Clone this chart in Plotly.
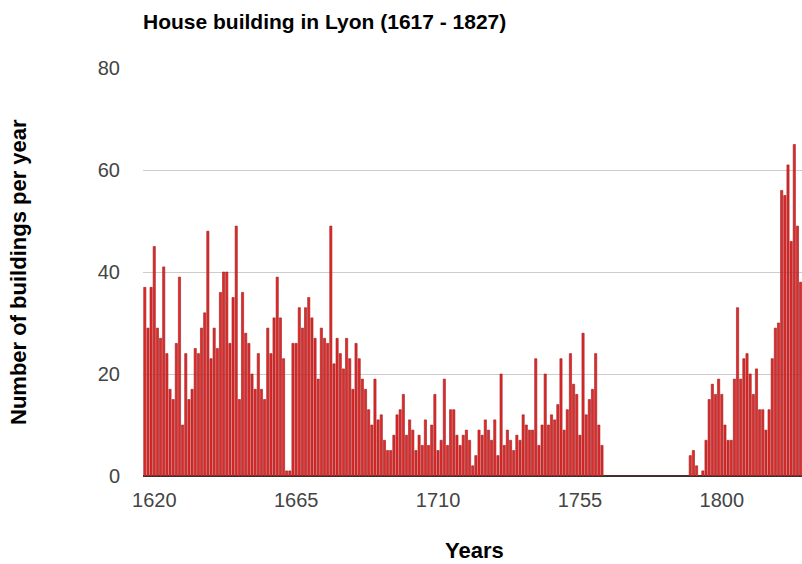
import plotly.graph_objects as go

# Years 1617 .. 1825 (bars beyond 1825 are clipped in the reference)
start_year = 1617
buildings_1617_1664 = [37, 29, 37, 45, 29, 27, 41, 24, 17, 15, 26, 39, 10, 24, 15, 17,
                       25, 24, 29, 32, 48, 23, 29, 25, 36, 40, 40, 26, 35, 49, 15, 36,
                       28, 26, 20, 17, 24, 17, 15, 29, 24, 31, 39, 31, 23, 1, 1, 26]
buildings_1665_1686 = [26, 33, 29, 33, 35, 31, 27, 19, 29, 27, 26, 49, 22, 27, 24, 21,
                       27, 23, 17, 26, 23, 19]
buildings_1687_1712 = [17, 13, 10, 19, 11, 12, 7, 5, 5, 8, 12, 13, 16, 8, 11, 9, 5, 8,
                       6, 11, 6, 10, 16, 5, 7, 19]
buildings_1713_1735 = [6, 13, 13, 8, 6, 8, 9, 7, 2, 4, 9, 8, 11, 9, 7, 11, 4, 20, 6, 9,
                       7, 5, 8]
buildings_1736_1762 = [7, 12, 10, 9, 9, 23, 6, 10, 20, 10, 12, 11, 14, 23, 9, 13, 24,
                       18, 16, 8, 28, 12, 15, 17, 24, 10, 6]
buildings_1763_1789 = [0] * 27
buildings_1790_1825 = [4, 5, 2, 0, 1, 7, 15, 18, 16, 19, 16, 10, 7, 7, 19, 33, 19, 23,
                       24, 20, 16, 21, 13, 13, 9, 13, 23, 29, 30, 56, 55, 61, 46, 65,
                       49, 38]

values = (buildings_1617_1664 + buildings_1665_1686 + buildings_1687_1712 +
          buildings_1713_1735 + buildings_1736_1762 + buildings_1763_1789 +
          buildings_1790_1825)
years = [start_year + i for i in range(len(values))]

x_tick_vals = [1620, 1665, 1710, 1755, 1800]
y_tick_vals = [0, 20, 40, 60, 80]

FONT = "Liberation Sans, Arial, sans-serif"

fig = go.Figure(go.Bar(
    x=years, y=values,
    marker=dict(color="#e02a2a", line=dict(color="#a01c1c", width=0.6)),
    hoverinfo="x+y",
))

fig.update_layout(
    width=802, height=564,
    margin=dict(l=143, r=0, t=68, b=88),
    paper_bgcolor="white", plot_bgcolor="white",
    bargap=0.3,
    showlegend=False,
    title=dict(text="<b>House building in Lyon (1617 - 1827)</b>",
               font=dict(family=FONT, size=21, color="black"),
               xref="container", yref="container",
               x=143 / 802, xanchor="left", y=1 - 22 / 564, yanchor="middle"),
    xaxis=dict(range=[1616.43, 1825.44], tickvals=x_tick_vals,
               ticktext=[str(v) for v in x_tick_vals],
               showgrid=False, zeroline=False, showline=False, ticks="",
               ticklabelstandoff=10, automargin=False,
               tickfont=dict(family=FONT, size=20, color="#444444")),
    yaxis=dict(range=[0, 80], tickvals=y_tick_vals,
               showgrid=True, gridcolor="#cccccc", gridwidth=1,
               zeroline=True, zerolinecolor="#333333", zerolinewidth=1.5,
               showline=False, ticks="", ticklabelstandoff=22, automargin=False,
               tickfont=dict(family=FONT, size=20, color="#444444")),
    annotations=[
        dict(text="<b>Number of buildings per year</b>", textangle=-90,
             xref="paper", yref="paper", x=(18 - 143) / 659, y=0.5,
             xanchor="center", yanchor="middle", showarrow=False,
             font=dict(family=FONT, size=22, color="black")),
        dict(text="<b>Years</b>",
             xref="paper", yref="paper", x=(474 - 143) / 659, y=(476 - 550) / 408,
             xanchor="center", yanchor="middle", showarrow=False,
             font=dict(family=FONT, size=22, color="black")),
    ],
)

fig.write_html("out.html",
               config={"displayModeBar": False},
               post_script="document.body.style.margin='0';document.body.style.overflow='hidden';")
